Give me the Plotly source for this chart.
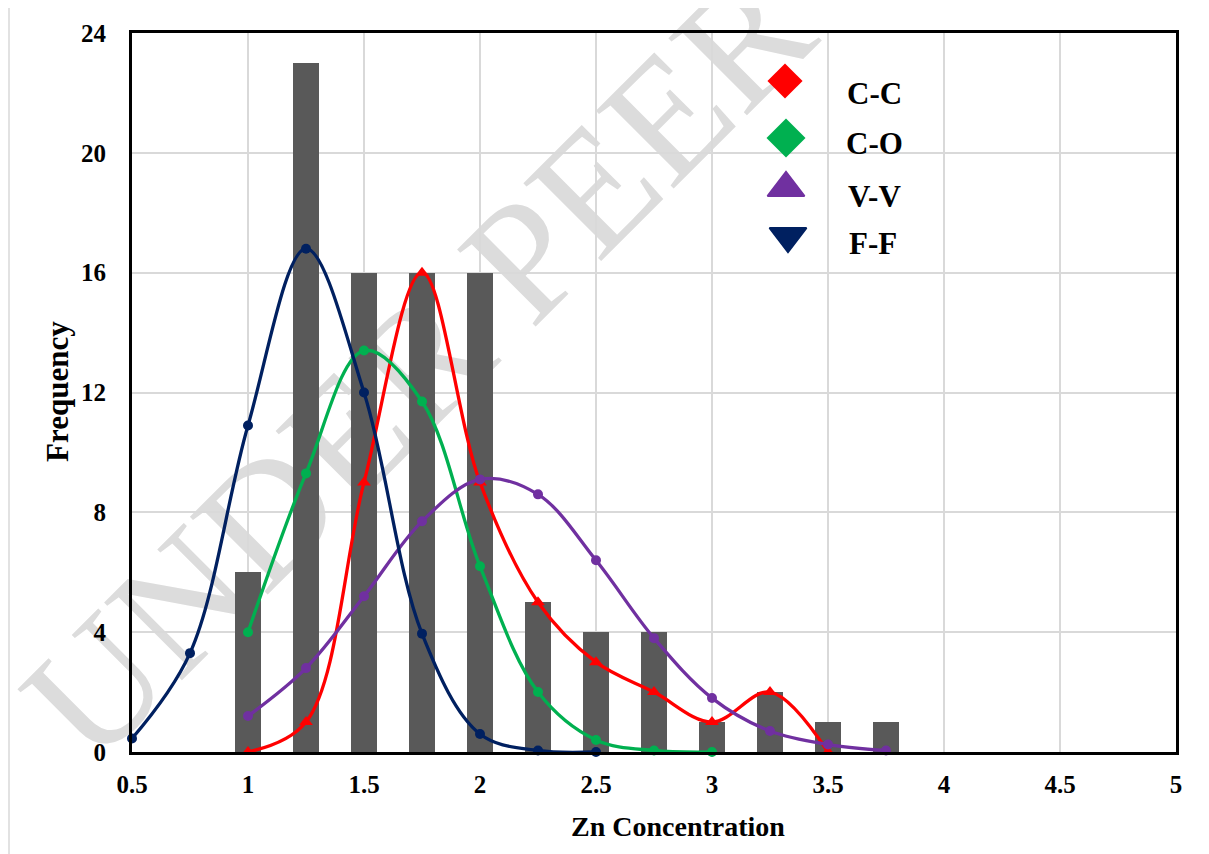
import math
import plotly.graph_objects as go

# ---------------- data ----------------
bar_x = [1, 1.25, 1.5, 1.75, 2, 2.25, 2.5, 2.75, 3, 3.25, 3.5, 3.75]
bar_freq = [6, 23, 16, 16, 16, 5, 4, 4, 1, 2, 1, 1]

cc_x = [1, 1.25, 1.5, 1.75, 2, 2.25, 2.5, 2.75, 3, 3.25, 3.5]
cc_y = [0, 1, 9, 16, 9, 5, 3, 2, 1, 2, 0]

co_x = [1, 1.25, 1.5, 1.75, 2, 2.25, 2.5, 2.75, 3]
co_y = [4, 9.3, 13.4, 11.7, 6.2, 2, 0.4, 0.05, 0]

vv_x = [1, 1.25, 1.5, 1.75, 2, 2.25, 2.5, 2.75, 3, 3.25, 3.5, 3.75]
vv_y = [1.2, 2.8, 5.2, 7.7, 9.1, 8.6, 6.4, 3.8, 1.8, 0.7, 0.25, 0.05]

ff_x = [0.5, 0.75, 1, 1.25, 1.5, 1.75, 2, 2.25, 2.5]
ff_y = [0.45, 3.3, 10.9, 16.8, 12, 3.95, 0.6, 0.05, 0]

series_names = ["C-C", "C-O", "V-V", "F-F"]
x_ticks = [0.5, 1, 1.5, 2, 2.5, 3, 3.5, 4, 4.5, 5]
x_tick_labels = ["0.5", "1", "1.5", "2", "2.5", "3", "3.5", "4", "4.5", "5"]
y_ticks = [0, 4, 8, 12, 16, 20, 24]
x_title = "Zn Concentration"
y_title = "Frequency"

# ---------------- styling ----------------
FONT = "Liberation Serif"
C_CC = "#FF0000"
C_CO = "#00B050"
C_VV = "#7030A0"
C_FF = "#002060"
BAR = "#595959"
GRID = "#D9D9D9"

OFF = 8                      # default page body margin
W, H = 1209 - OFF, 854 - OFF
# plot area in screen pixels
PL, PR, PT, PB = 132, 1176, 33, 752
ML, MR, MT, MB = PL - OFF, W - (PR - OFF), PT - OFF, H - (PB - OFF)
pw, ph = PR - PL, PB - PT

def px2paper(px, py):
    return (px - PL) / pw, (PB - py) / ph

fig = go.Figure()

fig.add_trace(go.Bar(x=bar_x, y=bar_freq, width=0.115, marker=dict(color=BAR, line=dict(width=0)),
                     showlegend=False, cliponaxis=False))

def curve(x, y, color, symbol, size, name):
    fig.add_trace(go.Scatter(
        x=x, y=y, mode="lines+markers", name=name, showlegend=False,
        line=dict(color=color, width=3.3, shape="spline", smoothing=1.0),
        marker=dict(color=color, symbol=symbol, size=size, opacity=1),
        cliponaxis=False))

curve(cc_x, cc_y, C_CC, "triangle-up", 12, series_names[0])
curve(co_x, co_y, C_CO, "circle", 10, series_names[1])
curve(vv_x, vv_y, C_VV, "circle", 10, series_names[2])
curve(ff_x, ff_y, C_FF, "circle", 10, series_names[3])

# ---- manual legend on an overlay axis in screen pixels ----
leg_mx = [785, 786, 786, 788]
leg_my = [81, 138, 188, 236]
leg_sym = ["diamond", "diamond", "triangle-up", "triangle-down"]
leg_size = [27, 30, 32, 32]
leg_col = [C_CC, C_CO, C_VV, C_FF]
leg_lw = [0, 0, 2, 2]
fig.add_trace(go.Scatter(
    x=leg_mx, y=leg_my, mode="markers", xaxis="x2", yaxis="y2", showlegend=False,
    marker=dict(symbol=leg_sym, size=leg_size, color=leg_col, opacity=1,
                line=dict(width=leg_lw, color=leg_col)),
    cliponaxis=False, hoverinfo="skip"))
leg_tx = [874, 874, 874, 873]
leg_ty = [93, 143, 196, 243]
for name, tx, ty in zip(series_names, leg_tx, leg_ty):
    fig.add_annotation(x=tx, y=ty, xref="x2", yref="y2", text=name, showarrow=False,
                       xanchor="center", yanchor="middle",
                       font=dict(family=FONT, size=31, color="black", weight="bold"))

# ---- axis titles (paper coordinates) ----
tx, ty = px2paper(678, 826)
fig.add_annotation(x=tx, y=ty, xref="paper", yref="paper", text=x_title, showarrow=False,
                   xanchor="center", yanchor="middle",
                   font=dict(family=FONT, size=28, color="black", weight="bold"))
tx, ty = px2paper(57, 392)
fig.add_annotation(x=tx, y=ty, xref="paper", yref="paper", text=y_title, showarrow=False,
                   textangle=-90, xanchor="center", yanchor="middle",
                   font=dict(family=FONT, size=31, color="black", weight="bold"))

# ---- watermark (behind everything) ----
cx, cy = 718, 174
ang = math.radians(45)
hl = 200
x0, y0 = px2paper(cx - hl * math.cos(ang), cy + hl * math.sin(ang))
x1, y1 = px2paper(cx + hl * math.cos(ang), cy - hl * math.sin(ang))
fig.add_shape(type="line", xref="paper", yref="paper", x0=x0, y0=y0, x1=x1, y1=y1,
              layer="below", line=dict(color="rgba(0,0,0,0)", width=1),
              label=dict(text="UNDER PEER REVIEW", textposition="middle",
                         font=dict(family=FONT, size=168, color="#DCDCDC")))

# outer light frame
fx0, fy1 = px2paper(9, 7)
fx1, fy0 = px2paper(1240, 890)
fig.add_shape(type="rect", xref="paper", yref="paper", x0=fx0, y0=fy0, x1=fx1, y1=fy1,
              layer="below", line=dict(color=GRID, width=1.5), fillcolor="rgba(0,0,0,0)")

fig.update_layout(
    width=W, height=H,
    margin=dict(l=ML, r=MR, t=MT, b=MB),
    paper_bgcolor="white", plot_bgcolor="rgba(0,0,0,0)",
    bargap=0, showlegend=False,
    font=dict(family=FONT, color="black"),
    xaxis=dict(range=[0.5, 5], tickvals=x_ticks, ticktext=x_tick_labels,
               showgrid=True, gridcolor=GRID, gridwidth=1.5, zeroline=False,
               showline=True, linecolor="black", linewidth=3, mirror=True,
               ticks="outside", ticklen=8, tickcolor="rgba(0,0,0,0)",
               tickfont=dict(family=FONT, size=25, color="black", weight="bold")),
    yaxis=dict(range=[0, 24], tickvals=y_ticks,
               showgrid=True, gridcolor=GRID, gridwidth=1.5, zeroline=False,
               showline=True, linecolor="black", linewidth=3, mirror=True,
               ticks="outside", ticklen=18, tickcolor="rgba(0,0,0,0)",
               tickfont=dict(family=FONT, size=25, color="black", weight="bold")),
    xaxis2=dict(overlaying="x", anchor="y2", range=[PL, PR], visible=False),
    yaxis2=dict(overlaying="y", anchor="x2", range=[PB, PT], visible=False),
)

fig.write_html("out.html")
